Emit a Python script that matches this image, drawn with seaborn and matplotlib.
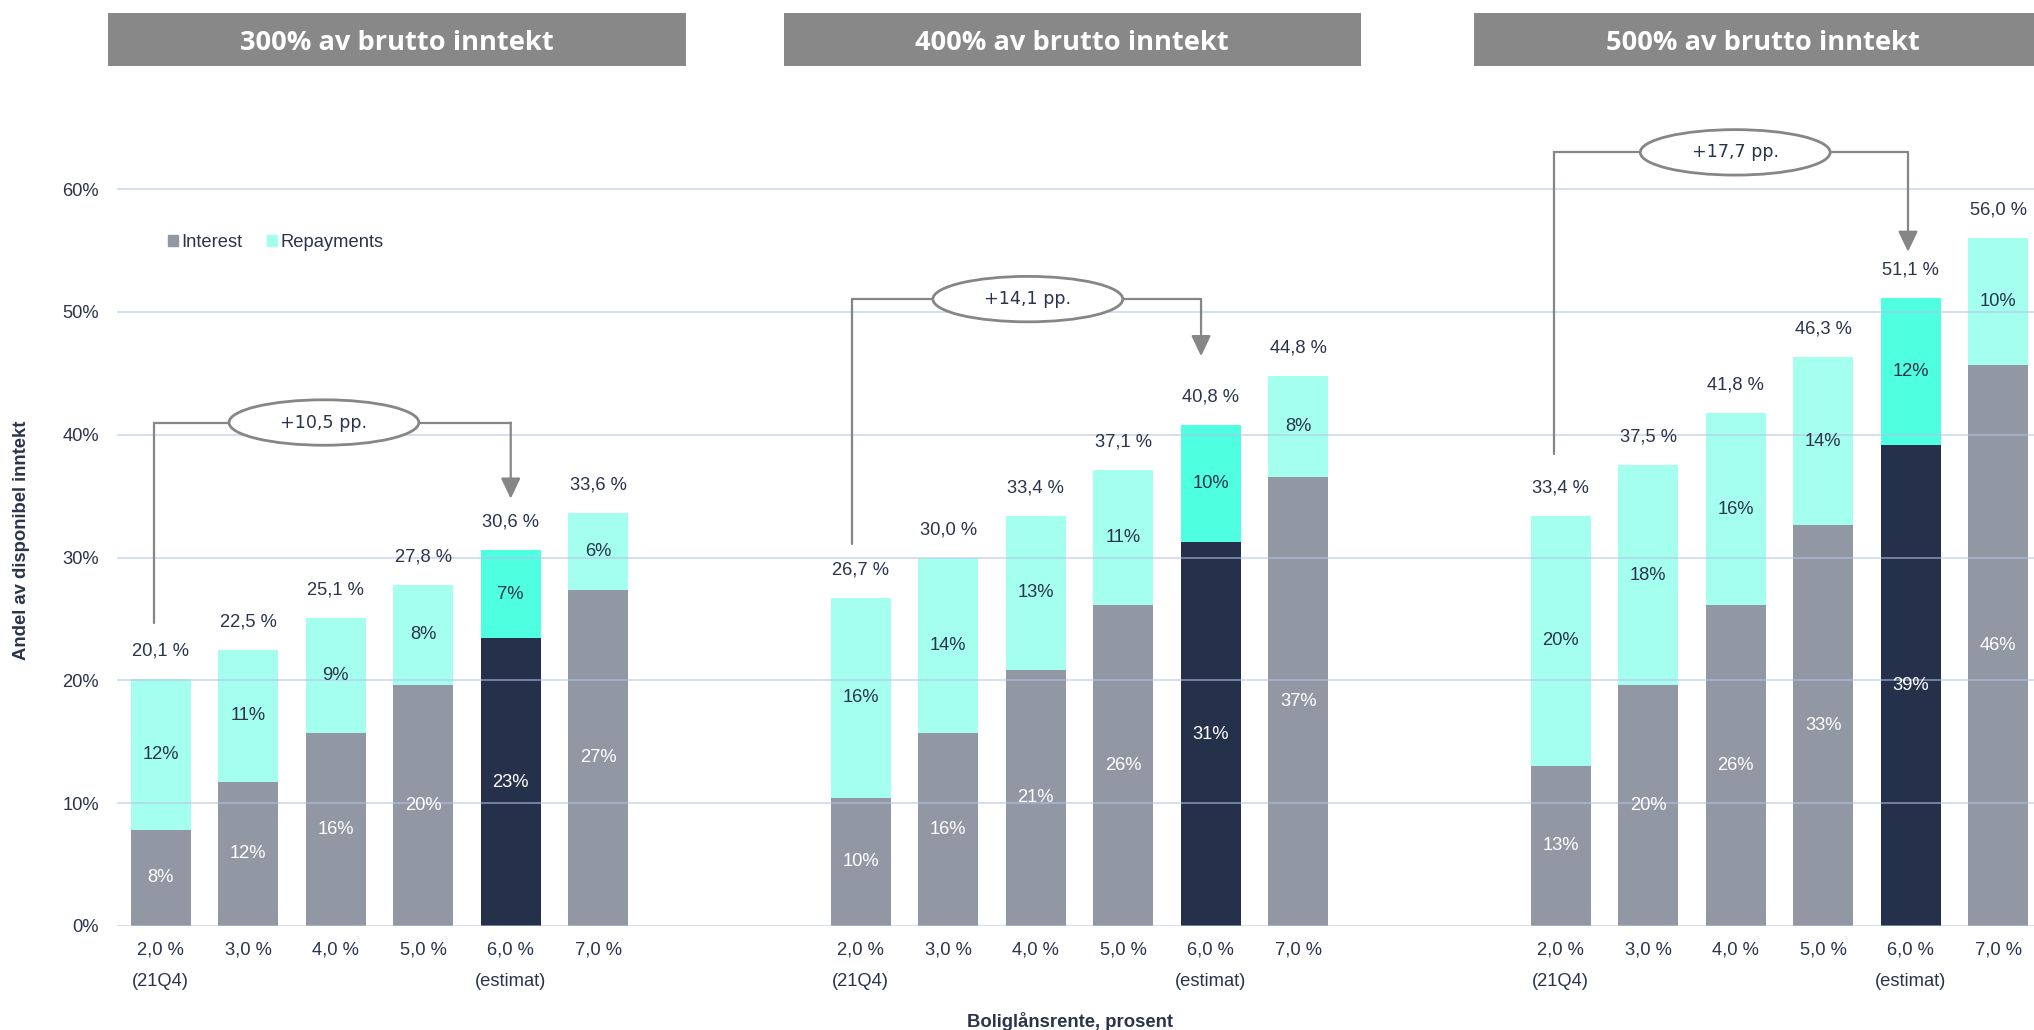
import matplotlib
matplotlib.use("Agg")
import matplotlib.pyplot as plt
from matplotlib.patches import Ellipse, Rectangle, Patch
import pandas as pd
import seaborn as sns

# ---- data -------------------------------------------------------------
panels = ["300% av brutto inntekt", "400% av brutto inntekt", "500% av brutto inntekt"]
rates = ["2,0 %", "3,0 %", "4,0 %", "5,0 %", "6,0 %", "7,0 %"]
rate_notes = ["(21Q4)", "", "", "", "(estimat)", ""]
highlight_rate = "6,0 %"
base_rate = "2,0 %"

# share of disposable income, percent
total_300 = [20.1, 22.5, 25.1, 27.8, 30.6, 33.6]
interest_300 = [7.85, 11.75, 15.7, 19.6, 23.45, 27.4]
total_400 = [26.7, 30.0, 33.4, 37.1, 40.8, 44.8]
interest_400 = [10.45, 15.7, 20.85, 26.1, 31.25, 36.55]
total_500 = [33.4, 37.5, 41.8, 46.3, 51.1, 56.0]
interest_500 = [13.05, 19.6, 26.1, 32.65, 39.2, 45.7]

totals = [total_300, total_400, total_500]
interests = [interest_300, interest_400, interest_500]

# ---- style ------------------------------------------------------------
W, H, DPI = 2034, 1030, 100
C_INT = "#9297a4"
C_REP = "#a5ffee"
C_INT_HI = "#25314b"
C_REP_HI = "#4effe0"
C_TXT = "#2b344d"
C_BOX = "#888888"
C_LINE = "#868686"
C_GRID = "#b4c3e6"
FS = 13.2
GROUP_STEP = 8          # slots per panel (6 bars + 2 empty)
BAR_W = 0.686

# bracket annotation layout per panel (percent levels / x offsets in slots)
bracket_level = [41.0, 51.05, 63.0]
arrow_tip = [34.8, 46.4, 54.9]
stem_bottom = [24.7, 31.1, 38.4]
stem_dx = [-0.08, -0.1, -0.08]
arrow_dx = [0.0, -0.11, -0.03]
ellipse_dx = [1.865, 1.91, 1.995]
ELL_W, ELL_H = 2.17, 3.7

sns.set_theme(style="white")
plt.rcParams["font.family"] = ["Liberation Sans", "DejaVu Sans"]

rows = []
for g, (tot, intr) in enumerate(zip(totals, interests)):
    for i, r in enumerate(rates):
        rows.append({
            "pos": g * GROUP_STEP + i,
            "rate": r,
            "total": tot[i],
            "interest": intr[i],
            "kind": "Highlight" if r == highlight_rate else "Base",
        })
df = pd.DataFrame(rows)

fig = plt.figure(figsize=(W / DPI, H / DPI), dpi=DPI, facecolor="white")
ax = fig.add_axes([117 / W, 1 - 926 / H, 1917 / W, 859.6 / H])

# stacked bars: full height in repayment colour, interest drawn over it
sns.barplot(data=df, x="pos", y="total", hue="kind",
            palette={"Base": C_REP, "Highlight": C_REP_HI},
            native_scale=True, dodge=False, width=BAR_W, saturation=1,
            errorbar=None, legend=False, linewidth=0, ax=ax)
sns.barplot(data=df, x="pos", y="interest", hue="kind",
            palette={"Base": C_INT, "Highlight": C_INT_HI},
            native_scale=True, dodge=False, width=BAR_W, saturation=1,
            errorbar=None, legend=False, linewidth=0, ax=ax)

ax.set_xlim(-0.5, 21.41)
ax.set_ylim(0, 70)
for s in ax.spines.values():
    s.set_visible(False)

# gridlines sit on top of the bars, semi-transparent
yt = list(range(0, 61, 10))
for v in yt:
    ax.axhline(v, color=C_GRID, lw=1.4, alpha=0.55, zorder=3)
ax.set_yticks(yt, labels=[f"{v}%" for v in yt])
ax.tick_params(axis="y", length=0, pad=13, labelsize=FS, labelcolor=C_TXT)
ax.set_xticks([])
ax.set_xlabel("")
ax.set_ylabel("")

# value labels
for _, r in df.iterrows():
    rep = r["total"] - r["interest"]
    ax.text(r["pos"], r["interest"] / 2, f"{r['interest']:.0f}%", ha="center",
            va="center", color="white", fontsize=FS, zorder=4)
    ax.text(r["pos"], r["interest"] + rep / 2, f"{rep:.0f}%", ha="center",
            va="center", color=C_TXT, fontsize=FS, zorder=4)
    ax.annotate(f"{r['total']:.1f} %".replace(".", ","), xy=(r["pos"], r["total"]),
                xytext=(0, 20.2), textcoords="offset points", ha="center",
                va="center", color=C_TXT, fontsize=FS, zorder=4)
    # category labels below the axis
    ax.annotate(r["rate"], xy=(r["pos"], 0), xycoords=("data", "axes fraction"),
                xytext=(0, -17.3), textcoords="offset points", ha="center",
                va="center", color=C_TXT, fontsize=FS, annotation_clip=False)
    note = rate_notes[rates.index(r["rate"])]
    if note:
        ax.annotate(note, xy=(r["pos"], 0), xycoords=("data", "axes fraction"),
                    xytext=(0, -39.6), textcoords="offset points", ha="center",
                    va="center", color=C_TXT, fontsize=FS, annotation_clip=False)

# change brackets from 2,0 % to 6,0 %
for g, tot in enumerate(totals):
    i0, i1 = rates.index(base_rate), rates.index(highlight_rate)
    x0 = g * GROUP_STEP + i0 + stem_dx[g]
    x1 = g * GROUP_STEP + i1 + arrow_dx[g]
    ex = g * GROUP_STEP + i0 + ellipse_dx[g]
    lvl = bracket_level[g]
    ax.plot([x0, x0, ex - ELL_W / 2], [stem_bottom[g], lvl, lvl], color=C_LINE,
            lw=1.6, clip_on=False, zorder=5, solid_joinstyle="miter")
    ax.plot([ex + ELL_W / 2, x1], [lvl, lvl], color=C_LINE, lw=1.6,
            clip_on=False, zorder=5)
    ax.annotate("", xy=(x1, arrow_tip[g]), xytext=(x1, lvl),
                arrowprops=dict(arrowstyle="-|>,head_length=1.05,head_width=0.5",
                                color=C_LINE, lw=1.6, shrinkA=0, shrinkB=0),
                annotation_clip=False, zorder=5)
    ax.add_patch(Ellipse((ex, lvl), ELL_W, ELL_H, facecolor="white",
                         edgecolor=C_LINE, lw=2.0, zorder=6, clip_on=False))
    change = f"{tot[i1] - tot[i0]:.1f}".replace(".", ",")
    ax.text(ex, lvl, f"+{change} pp.", ha="center", va="center", color=C_TXT,
            fontsize=12.6, family="DejaVu Sans", zorder=7)

# panel title boxes
box_left = [108, 783.5, 1474]
box_w, box_top, box_bot = 577.5, 12.7, 65.7
for left, title in zip(box_left, panels):
    fig.add_artist(Rectangle((left / W, 1 - box_bot / H), box_w / W,
                             (box_bot - box_top) / H, transform=fig.transFigure,
                             facecolor=C_BOX, edgecolor="none"))
    fig.text((left + box_w / 2) / W, 1 - ((box_top + box_bot) / 2 + 3.5) / H, title,
             ha="center", va="center", color="white", fontsize=19.6,
             fontweight="bold", family=["Open Sans", "DejaVu Sans"])

# axis titles
fig.text(21.7 / W, 1 - 540 / H, "Andel av disponibel inntekt", rotation=90,
         ha="center", va="center", fontsize=13.3, fontweight="bold", color=C_TXT)
fig.text(1070 / W, 1 - 1021.7 / H, "Boliglånsrente, prosent", ha="center",
         va="center", fontsize=13.3, fontweight="bold", color=C_TXT)

# legend
fig.legend(handles=[Patch(color=C_INT, label="Interest"),
                    Patch(color=C_REP, label="Repayments")],
           loc="center left", bbox_to_anchor=(168.3 / W, 1 - 242.5 / H),
           ncol=2, frameon=False, handlelength=0.51, handleheight=0.51,
           handletextpad=0.22, columnspacing=1.34, borderpad=0,
           borderaxespad=0, fontsize=FS, labelcolor=C_TXT)

fig.savefig("out.png", dpi=DPI, facecolor="white")
